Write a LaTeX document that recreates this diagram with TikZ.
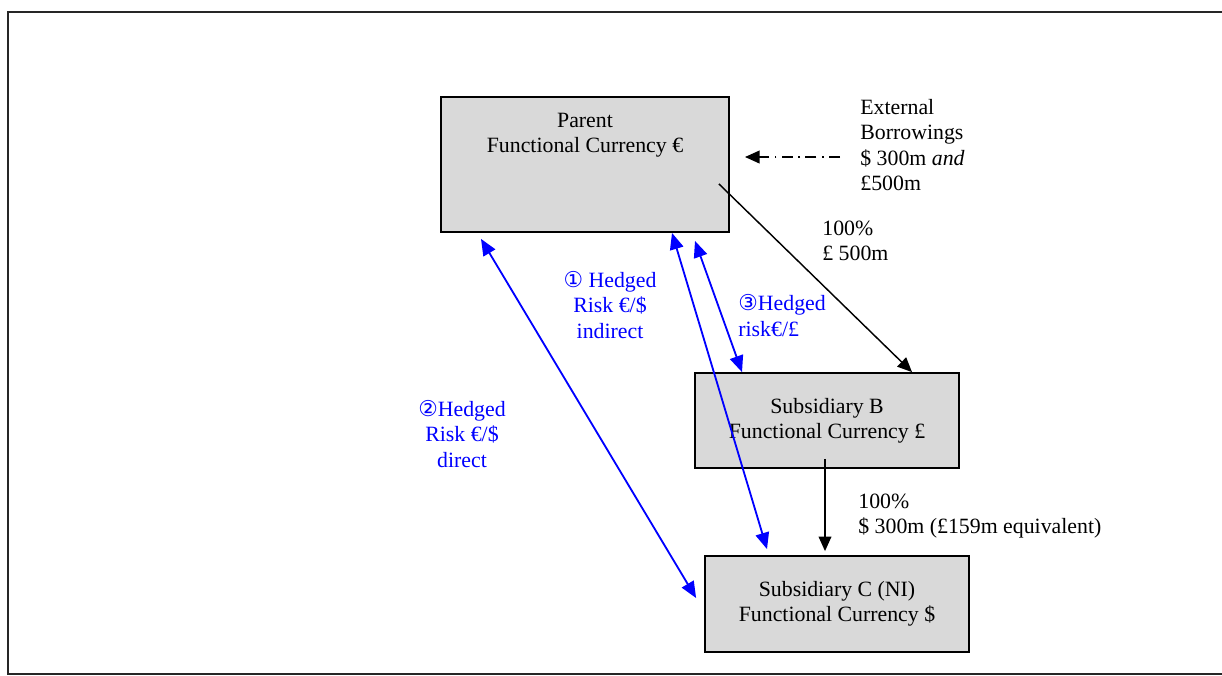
\documentclass[tikz,border=0pt]{standalone}
\usepackage{fontspec}
\setmainfont{Liberation Serif}
\newfontfamily\circfont{DejaVu Sans}
\usepackage{tikz}
\usepackage{xcolor}
\usetikzlibrary{arrows.meta, calc}
\tikzstyle{block} = [rectangle, draw=black, line width=1pt, fill=black!15, align=center, font=\fontsize{12pt}{13.8pt}\selectfont]
\tikzstyle{arrow} = [line width=0.8pt, -{Triangle[length=8pt,width=7pt]}]
\tikzstyle{hedge} = [line width=1pt, blue, {Triangle[length=9pt,width=7.5pt]}-{Triangle[length=9pt,width=7.5pt]}]
\tikzstyle{note} = [inner sep=0pt, font=\fontsize{12pt}{13.8pt}\selectfont]

\begin{document}
\begin{tikzpicture}[x=0.55pt, y=-0.55pt]
\useasboundingbox (0,0) rectangle (1222,675);
\draw [line width=1pt, black!85] (8,12) rectangle (1240,674);

\node (parent) [block, minimum width=158.4pt, minimum height=74.25pt] at (585,164.5) {Parent\\Functional Currency €\\[17pt]\strut};
\node (subb) [block, minimum width=145.2pt, minimum height=52.25pt] at (827,420.5) {Subsidiary B\\Functional Currency £};
\node (subc) [block, minimum width=145.2pt, minimum height=52.8pt] at (837,604) {Subsidiary C (NI)\\Functional Currency \$};

\node (external) [note, anchor=west, align=left] at (860,145) {External\\Borrowings\\\$ 300m \textit{and}\\£500m};
\coordinate (extend) at (745,157);
\draw [line width=0.8pt, dash pattern=on 6pt off 3pt on 1pt off 3pt, -{Triangle[length=8pt,width=7pt]}] ($(external.west)+(-20,12)$) -- (extend);

\node (ownb) [note, anchor=west, align=left] at (822,240.5) {100\%\\£ 500m};
\node (ownc) [note, anchor=west, align=left] at (858,516) {100\%\\\$ 300m (£159m equivalent)};
\draw [arrow] ($(parent.south east)+(-11,-49)$) -- ($(subb.north)+(85,0)$);
\draw [arrow] ($(subb.south)+(-2,-10)$) -- ($(subc.north)+(-12,-4)$);

% hedged risks
\node (riskone) [note, blue, align=center] at (610,305) {{\circfont ①} Hedged\\Risk €/\$\\indirect};
\node (risktwo) [note, blue, align=center] at (462,434) {{\circfont ②}Hedged\\Risk €/\$\\direct};
\node (riskthree) [note, blue, anchor=west, align=left] at (738,315.5) {{\circfont ③}Hedged\\risk€/£};
\draw [hedge] ($(parent.south)+(87,0)$) -- ($(subc.north)+(-70,-6)$);
\draw [hedge] ($(parent.south)+(110,8)$) -- ($(subb.north)+(-85,0)$);
\draw [hedge] ($(parent.south)+(-104,6)$) -- ($(subc.west)+(-8,-6)$);
\end{tikzpicture}
\end{document}
